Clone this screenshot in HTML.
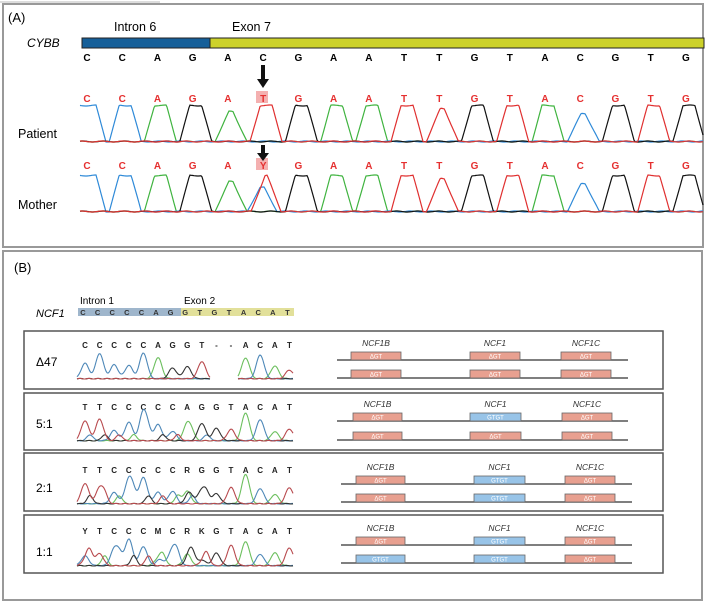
<!DOCTYPE html>
<html><head><meta charset="utf-8"><style>
html,body{margin:0;padding:0;background:#fff}
svg{display:block;font-family:"Liberation Sans",sans-serif}
</style></head><body>
<svg id="s" width="705" height="602" viewBox="0 0 705 602" xmlns="http://www.w3.org/2000/svg">
<rect width="705" height="602" fill="#fff"/>
<line x1="0" y1="2" x2="160" y2="2" stroke="#bbb" stroke-width="1"/>
<rect x="3" y="4" width="700" height="243" fill="none" stroke="#999" stroke-width="2"/>
<rect x="3" y="251" width="699" height="349" fill="none" stroke="#999" stroke-width="2"/>
<text x="8" y="22" font-size="13">(A)</text>
<text x="114" y="31" font-size="12.5">Intron 6</text>
<text x="232" y="31" font-size="12.5">Exon 7</text>
<text x="27" y="47" font-size="12" font-style="italic">CYBB</text>
<rect x="82" y="38" width="128" height="10" fill="#155f99" stroke="#222" stroke-width="1"/>
<rect x="210" y="38" width="494" height="10" fill="#ccd12a" stroke="#222" stroke-width="1"/>
<rect x="256" y="91" width="12" height="12" fill="#f4b0b0"/>
<rect x="256" y="158" width="12" height="12" fill="#f4b0b0"/>
<g id="seqA" font-size="10" font-weight="bold" text-anchor="middle"></g>
<g id="patL" font-size="10" font-weight="bold" text-anchor="middle" fill="#e53030"></g>
<g id="motL" font-size="10" font-weight="bold" text-anchor="middle" fill="#e53030"></g>
<path d="M261 65h4v14h4l-6 9-6-9h4z" fill="#111"/>
<path d="M261 145h4v8h4l-6 8-6-8h4z" fill="#111"/>
<text x="18" y="138" font-size="12.5">Patient</text>
<text x="18" y="209" font-size="12.5">Mother</text>
<g id="trA" fill="none" stroke-width="1.2"></g>

<text x="14" y="272" font-size="13">(B)</text>
<text x="80" y="304" font-size="10">Intron 1</text>
<text x="184" y="304" font-size="10">Exon 2</text>
<text x="36" y="317" font-size="11" font-style="italic">NCF1</text>
<rect x="78" y="308" width="103" height="8" fill="#9fb6cc"/>
<rect x="181" y="308" width="113" height="8" fill="#e2e09a"/>
<g id="ncfseq" font-size="7.5" font-weight="bold" text-anchor="middle" fill="#333"></g>
<g id="boxes"></g>
<g id="trB" fill="none" stroke-width="1.1"></g>
</svg>
<script>
(function(){
const NS="http://www.w3.org/2000/svg";
function el(p,t,a,txt){const e=document.createElementNS(NS,t);for(const k in a)e.setAttribute(k,a[k]);if(txt!=null)e.textContent=txt;document.getElementById(p).appendChild(e);return e;}
const col={A:"#3fb33f",C:"#2f8ad8",G:"#111",T:"#e03030"};
const refSeq="CCAGACGAATTGTACGTG", pat="CCAGATGAATTGTACGTG", mot="CCAGAYGAATTGTACGTG";
for(let i=0;i<18;i++){const x=87+i*35.23;
el("seqA","text",{x:x,y:61},refSeq[i]);
el("patL","text",{x:x,y:102},pat[i]);
el("motL","text",{x:x,y:169},mot[i]);}
function traceA(base,seq){
 const ps=[];
 for(let i=0;i<18;i++){const x=87+i*35.23+3;const b=seq[i];
  if(b==="Y"){ps.push({x:x,b:"T",h:36,hw:15,f:1});ps.push({x:x-4,b:"C",h:24,hw:15,f:2});}
  else{let h=36;if(b==="A"&&i==4)h=30;if(b==="C"&&i==14)h=28;if(b==="T"&&i==10)h=33;
   ps.push({x:x,b:b,h:h,hw:16,f:(h<36?2:6)});}}
 ps.push({x:80,b:"C",h:36,hw:21,f:12});
 for(const c in col){let d="";
  for(let x=80;x<=703;x+=1){let v=0;
   for(const p of ps){if(p.b!==c)continue;const u=Math.abs(x-p.x);
    if(u<p.hw){v=Math.max(v,Math.min(1,(p.hw-u)/(p.hw-p.f))*p.h);}}
   v+=0.5+0.5*Math.sin(x*0.3+c.charCodeAt(0));
   d+=(d?"L":"M")+x+" "+(base-v).toFixed(1);}
  el("trA","path",{d:d,stroke:col[c]});}
}
traceA(142,pat);traceA(212,mot);
function trace(g,x0,x1,base,peaks,colors){
 for(const c in colors){let d="";
  for(let x=x0;x<=x1;x+=1){let v=0;
   for(const p of peaks){if(p.b!==c)continue;const u=(x-p.x)/p.w;v+=p.h*Math.exp(-u*u/2);}
   v+=0.3+0.3*Math.sin(x*0.7+c.charCodeAt(0));
   d+=(d?"L":"M")+x+" "+(base-v).toFixed(1);}
  el(g,"path",{d:d,stroke:colors[c]});}
}
const ns="CCCCCAGGTGTACAT";for(let i=0;i<15;i++)el("ncfseq","text",{x:83+i*14.6,y:315},ns[i]);
const rows=[
 {y0:331,y1:389,lab:"Δ47",ly:366,seq:"CCCCCAGGT--ACAT",sy:348,base:379,g:[[351,401,"p"],[470,520,"p"],[561,611,"p"]],g2:[[351,401,"p"],[470,520,"p"],[561,611,"p"]],gy:[352,370],lx:[337,628],gl:346},
 {y0:393,y1:450,lab:"5:1",ly:428,seq:"TTCCCCCAGGTACAT",sy:410,base:441,g:[[353,402,"p"],[470,521,"b"],[562,612,"p"]],g2:[[353,402,"p"],[470,521,"p"],[562,612,"p"]],gy:[413,432],lx:[337,628],gl:407},
 {y0:453,y1:511,lab:"2:1",ly:492,seq:"TTCCCCCRGGTACAT",sy:473,base:504,g:[[356,405,"p"],[474,525,"b"],[565,615,"p"]],g2:[[356,405,"p"],[474,525,"b"],[565,615,"p"]],gy:[476,494],lx:[341,632],gl:470},
 {y0:515,y1:573,lab:"1:1",ly:556,seq:"YTCCCMCRKGTACAT",sy:534,base:566,g:[[356,405,"p"],[474,525,"b"],[565,615,"p"]],g2:[[356,405,"b"],[474,525,"b"],[565,615,"p"]],gy:[537,555],lx:[341,632],gl:531}];
const cB={A:"#6cbf5e",C:"#4e88b8",G:"#333",T:"#b84a4e"};
rows.forEach((r,ri)=>{
 el("boxes","rect",{x:24,y:r.y0,width:639,height:r.y1-r.y0,fill:"none",stroke:"#555","stroke-width":1.5});
 el("boxes","text",{x:36,y:r.ly,"font-size":12},r.lab);
 for(let i=0;i<15;i++)el("boxes","text",{x:85+i*14.6,y:r.sy,"font-size":8,"font-weight":"bold","text-anchor":"middle",fill:"#222"},r.seq[i]);
 const names=["NCF1B","NCF1","NCF1C"];
 r.g.forEach((b,k)=>el("boxes","text",{x:(b[0]+b[1])/2,y:r.gl,"font-size":8.5,"font-style":"italic","text-anchor":"middle",fill:"#333"},names[k]));
 [r.g,r.g2].forEach((gs,j)=>{const y=r.gy[j];
  el("boxes","line",{x1:r.lx[0],y1:y+8,x2:r.lx[1],y2:y+8,stroke:"#555","stroke-width":1.5});
  gs.forEach(b=>{const pk=b[2]=="p";
   el("boxes","rect",{x:b[0],y:y,width:b[1]-b[0],height:8,fill:pk?"#e8a090":"#98c4e8",stroke:"#666","stroke-width":0.8});
   el("boxes","text",{x:(b[0]+b[1])/2,y:y+6.5,"font-size":6,"text-anchor":"middle",fill:"#fff"},pk?"ΔGT":"GTGT");});});
 const ps=[];const hs=[0.7,0.85,0.7,0.9,1,0.75,0.65,0.7,0.6,0.7,0.7,1,0.8,0.6,0.6];
 for(let i=0;i<15;i++){let b=r.seq[i];const x=85+i*14.6;if(b=="-")continue;
  const map={R:["A","G"],Y:["C","T"],M:["A","C"],K:["G","T"]};
  let h=26*hs[i]*(0.85+0.3*Math.sin(i*1.7+ri));
  if(map[b]){ps.push({x:x,b:map[b][0],w:3.8,h:h*0.6});ps.push({x:x+2,b:map[b][1],w:3.8,h:h*0.55});}
  else ps.push({x:x,b:b,w:3.8,h:h});
  if(ri>0&&i<9){ps.push({x:x+5,b:"ACGT"[(i+ri)%4],w:3,h:4+ri*2});}}
 if(ri==0){trace("trB",77,210,r.base,ps,cB);trace("trB",238,293,r.base,ps,cB);}
 else trace("trB",77,293,r.base,ps,cB);
});
})();
</script>
</body></html>
